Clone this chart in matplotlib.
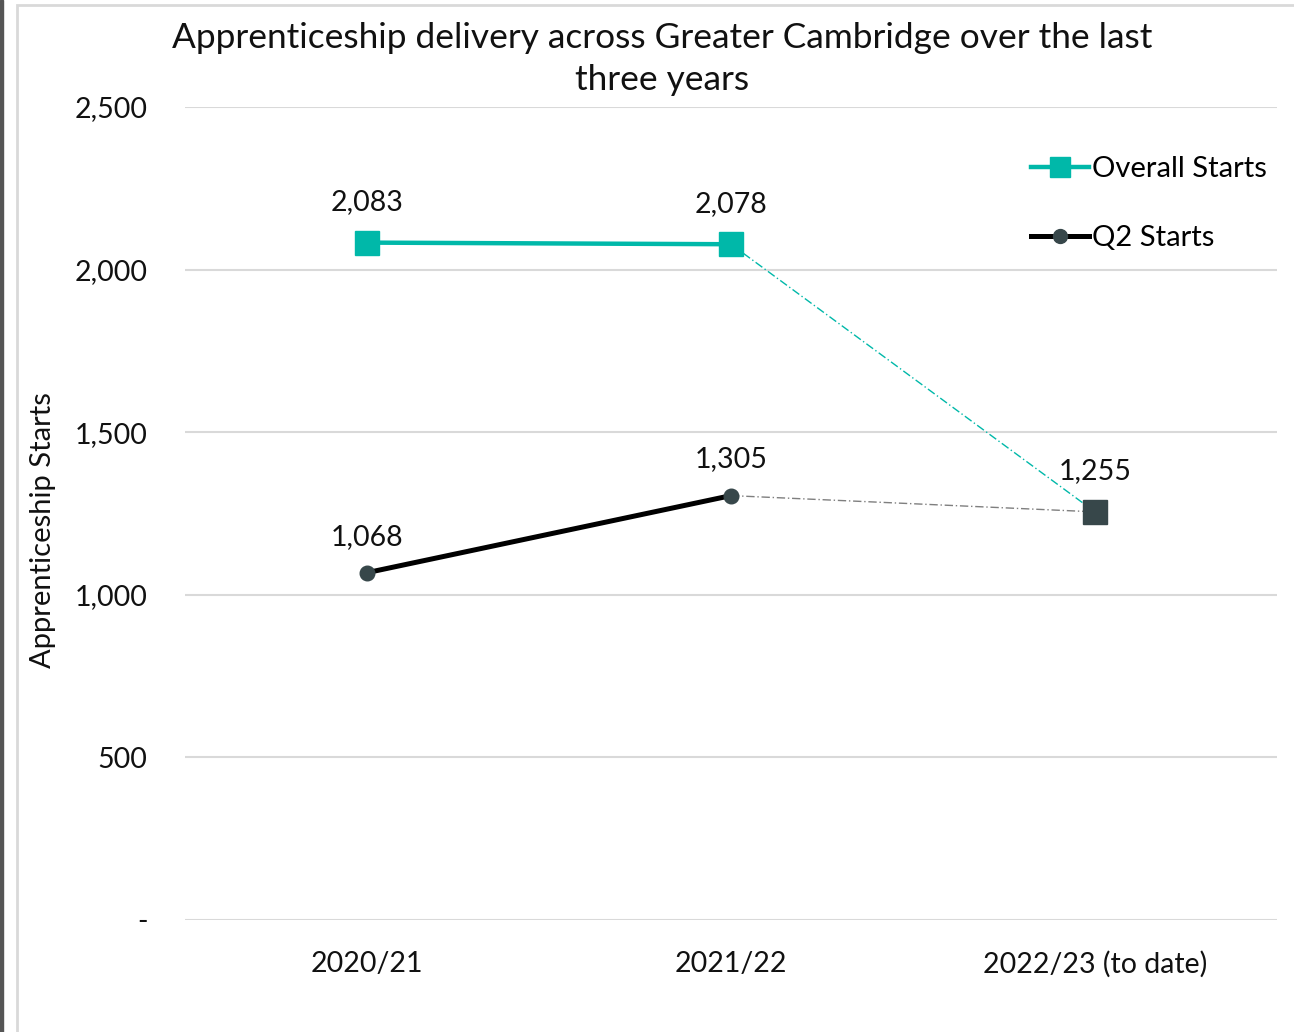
import matplotlib
matplotlib.use("Agg")
import matplotlib.pyplot as plt
from matplotlib.lines import Line2D
from matplotlib.patches import Rectangle

categories = ["2020/21", "2021/22", "2022/23 (to date)"]
overall_starts = [2083, 2078, 1255]
q2_starts = [1068, 1305, 1255]
y_ticks = [0, 500, 1000, 1500, 2000, 2500]
y_tick_labels = ["-", "500", "1,000", "1,500", "2,000", "2,500"]
title = "Apprenticeship delivery across Greater Cambridge over the last\nthree years"
y_label = "Apprenticeship Starts"

FONT = ["Lato", "DejaVu Sans"]
plt.rcParams["font.family"] = FONT

TEAL = "#00B8A9"
DARK = "#37474A"
GRID = "#D9D9D9"
FS = 20.5

fig = plt.figure(figsize=(12.94, 10.32), dpi=100)
# outer frame
fig.patches.append(Rectangle((0, 0), 0.0025, 1, transform=fig.transFigure, color="#555555", zorder=0))
fig.patches.append(Rectangle((17/1294, -0.1), 1.2, 1.1 - 5/1032, transform=fig.transFigure,
                             fill=False, edgecolor="#D9D9D9", linewidth=2, zorder=0))

ax = fig.add_axes([185/1294, 1 - 920/1032, (1277 - 185)/1294, (920 - 107)/1032])
x = list(range(len(categories)))

# solid parts
ax.plot(x[:2], overall_starts[:2], color=TEAL, linewidth=3.2, marker="s", markersize=17,
        markerfacecolor=TEAL, markeredgecolor=TEAL, zorder=4, solid_capstyle="butt")
ax.plot(x[:2], q2_starts[:2], color="black", linewidth=3.6, marker="o", markersize=10.5,
        markerfacecolor=DARK, markeredgecolor=DARK, zorder=4)
# projected parts
ax.plot(x[1:], overall_starts[1:], color=TEAL, linewidth=1.0, linestyle=(0, (6, 2, 1, 2)), zorder=3)
ax.plot(x[1:], q2_starts[1:], color="#7F7F7F", linewidth=1.0, linestyle=(0, (6, 2, 1, 2)), zorder=3)
ax.plot([x[2]], [overall_starts[2]], marker="s", markersize=17, color=DARK, linestyle="none", zorder=5)

# data labels
ov_off = [29, 29, 29.5]
q2_off = [26, 26]
for i in range(3):
    ax.annotate(f"{overall_starts[i]:,}", (x[i], overall_starts[i]), xytext=(0, ov_off[i]),
                textcoords="offset points", ha="center", va="center", fontsize=FS, color="#111111")
for i in range(2):
    ax.annotate(f"{q2_starts[i]:,}", (x[i], q2_starts[i]), xytext=(0, q2_off[i]),
                textcoords="offset points", ha="center", va="center", fontsize=FS, color="#111111")

ax.set_xlim(-0.5, 2.5)
ax.set_ylim(0, 2500)
ax.set_yticks(y_ticks)
ax.set_yticklabels(y_tick_labels)
ax.set_xticks(x)
ax.set_xticklabels(categories)
ax.tick_params(axis="both", length=0, labelsize=FS, colors="#111111")
ax.tick_params(axis="y", pad=27)
ax.tick_params(axis="x", pad=22)
ax.grid(axis="y", color=GRID, linewidth=1.5)
ax.set_axisbelow(True)
for s in ax.spines.values():
    s.set_visible(False)

ax.set_ylabel(y_label, fontsize=21, color="#111111")
ax.yaxis.set_label_coords((56 - 185) / 1092, (920 - 530) / 813)
fig.text(662/1294, 1 - 59/1032, title, ha="center", va="center", fontsize=25.4,
         color="#111111", linespacing=1.4)

handles = [
    Line2D([], [], color=TEAL, linewidth=3.2, marker="s", markersize=15,
           markerfacecolor=TEAL, markeredgecolor=TEAL),
    Line2D([], [], color="black", linewidth=3.6, marker="o", markersize=10,
           markerfacecolor=DARK, markeredgecolor=DARK),
]
leg = ax.legend(handles, ["Overall Starts", "Q2 Starts"], loc="upper right",
                bbox_to_anchor=(0.991, 0.940), frameon=False, fontsize=21,
                handlelength=2.0, handletextpad=0.1, labelspacing=1.48, borderaxespad=0,
                borderpad=0)

fig.savefig("out.png", dpi=100, facecolor="white")
